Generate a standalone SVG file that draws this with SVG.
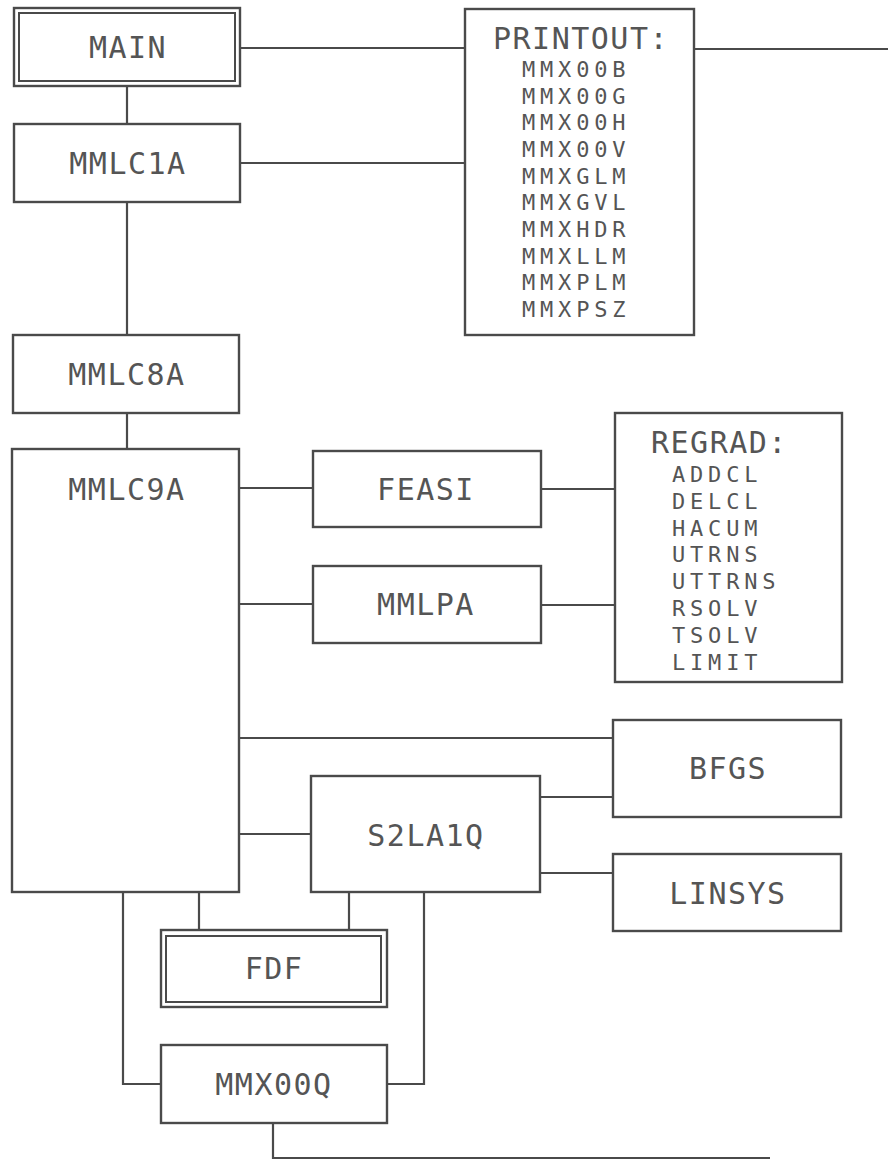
<svg xmlns="http://www.w3.org/2000/svg" width="890" height="1160" viewBox="0 0 890 1160">
<style>
.box{fill:#fff;stroke:#4a4a4a;stroke-width:2.4}
.in{fill:none;stroke:#4a4a4a;stroke-width:2}
.ln{fill:none;stroke:#4a4a4a;stroke-width:2.2}
.t{font-family:"DejaVu Sans Mono","Liberation Mono",monospace;font-size:30px;fill:#555;letter-spacing:1.5px}
.s{font-family:"DejaVu Sans Mono","Liberation Mono",monospace;font-size:22px;fill:#555;letter-spacing:4.8px}
.c{text-anchor:middle}
</style>
<rect width="890" height="1160" fill="#fff"/>
<g id="connectors">
<line class="ln" x1="127" y1="86" x2="127" y2="124"/>
<line class="ln" x1="240" y1="48" x2="465" y2="48"/>
<line class="ln" x1="240" y1="163" x2="465" y2="163"/>
<line class="ln" x1="694" y1="49" x2="888" y2="49"/>
<line class="ln" x1="127" y1="202" x2="127" y2="335"/>
<line class="ln" x1="127" y1="413" x2="127" y2="449"/>
<line class="ln" x1="239" y1="488" x2="313" y2="488"/>
<line class="ln" x1="239" y1="604" x2="313" y2="604"/>
<line class="ln" x1="541" y1="489" x2="615" y2="489"/>
<line class="ln" x1="541" y1="605" x2="615" y2="605"/>
<line class="ln" x1="239" y1="738" x2="613" y2="738"/>
<line class="ln" x1="239" y1="834" x2="311" y2="834"/>
<line class="ln" x1="540" y1="797" x2="613" y2="797"/>
<line class="ln" x1="540" y1="873" x2="613" y2="873"/>
<line class="ln" x1="199" y1="892" x2="199" y2="930"/>
<line class="ln" x1="349" y1="892" x2="349" y2="930"/>
<polyline class="ln" points="123,892 123,1084 161,1084"/>
<polyline class="ln" points="424,892 424,1084 387,1084"/>
<polyline class="ln" points="273,1123 273,1158 770,1158"/>
</g>
<g id="MAIN">
<rect class="box" x="14" y="8" width="226" height="78"/>
<rect class="in" x="19" y="13" width="216" height="68"/>
<text class="t c" x="128" y="58">MAIN</text>
</g>
<g id="PRINTOUT">
<rect class="box" x="465" y="9" width="229" height="326"/>
<text class="t" x="493" y="49">PRINTOUT:</text>
<text class="s" x="522" y="77">MMX00B</text>
<text class="s" x="522" y="103.67">MMX00G</text>
<text class="s" x="522" y="130.33">MMX00H</text>
<text class="s" x="522" y="157">MMX00V</text>
<text class="s" x="522" y="183.67">MMXGLM</text>
<text class="s" x="522" y="210.33">MMXGVL</text>
<text class="s" x="522" y="237">MMXHDR</text>
<text class="s" x="522" y="263.67">MMXLLM</text>
<text class="s" x="522" y="290.33">MMXPLM</text>
<text class="s" x="522" y="317">MMXPSZ</text>
</g>
<g id="MMLC1A">
<rect class="box" x="14" y="124" width="226" height="78"/>
<text class="t c" x="128" y="174">MMLC1A</text>
</g>
<g id="MMLC8A">
<rect class="box" x="13" y="335" width="226" height="78"/>
<text class="t c" x="127" y="385">MMLC8A</text>
</g>
<g id="MMLC9A">
<rect class="box" x="12" y="449" width="227" height="443"/>
<text class="t c" x="127" y="500">MMLC9A</text>
</g>
<g id="FEASI">
<rect class="box" x="313" y="451" width="228" height="76"/>
<text class="t c" x="426" y="500">FEASI</text>
</g>
<g id="MMLPA">
<rect class="box" x="313" y="566" width="228" height="77"/>
<text class="t c" x="426" y="615">MMLPA</text>
</g>
<g id="REGRAD">
<rect class="box" x="615" y="413" width="227" height="269"/>
<text class="t" x="651" y="453">REGRAD:</text>
<text class="s" x="672" y="482">ADDCL</text>
<text class="s" x="672" y="508.8">DELCL</text>
<text class="s" x="672" y="535.6">HACUM</text>
<text class="s" x="672" y="562.4">UTRNS</text>
<text class="s" x="672" y="589.2">UTTRNS</text>
<text class="s" x="672" y="616">RSOLV</text>
<text class="s" x="672" y="642.8">TSOLV</text>
<text class="s" x="672" y="669.6">LIMIT</text>
</g>
<g id="BFGS">
<rect class="box" x="613" y="720" width="228" height="97"/>
<text class="t c" x="728" y="779">BFGS</text>
</g>
<g id="S2LA1Q">
<rect class="box" x="311" y="776" width="229" height="116"/>
<text class="t c" x="426" y="846">S2LA1Q</text>
</g>
<g id="LINSYS">
<rect class="box" x="613" y="854" width="228" height="77"/>
<text class="t c" x="728" y="904">LINSYS</text>
</g>
<g id="FDF">
<rect class="box" x="161" y="930" width="226" height="77"/>
<rect class="in" x="166" y="936" width="215" height="66"/>
<text class="t c" x="274" y="979">FDF</text>
</g>
<g id="MMX00Q">
<rect class="box" x="161" y="1045" width="226" height="78"/>
<text class="t c" x="274" y="1095">MMX00Q</text>
</g>
</svg>
